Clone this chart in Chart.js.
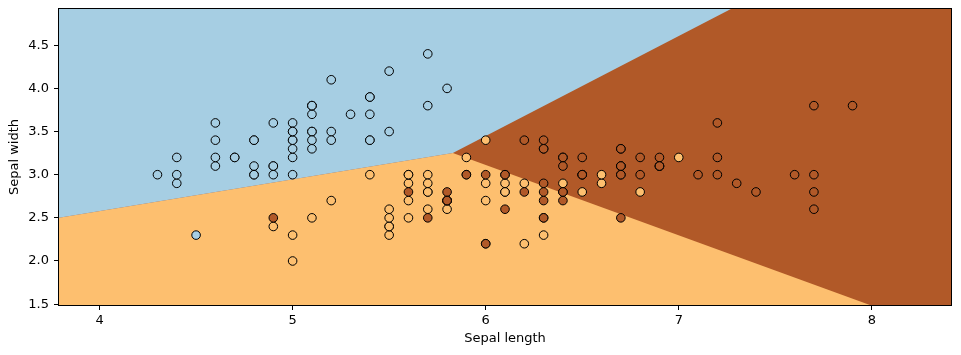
<!DOCTYPE html>
<html>
<head>
<meta charset="utf-8">
<script src="https://cdn.jsdelivr.net/npm/chart.js@4/dist/chart.umd.min.js"></script>
<style>
  html, body { margin: 0; padding: 0; background: #fff; }
  #wrap { width: 961px; height: 355px; }
</style>
</head>
<body>
<div id="wrap"><canvas id="c" width="961" height="355"></canvas></div>
<script>
// ---- data (iris: sepal length, sepal width) ----
const setosaLen = [5.1,4.9,4.7,4.6,5.0,5.4,4.6,5.0,4.4,4.9,5.4,4.8,4.8,4.3,5.8,5.7,5.4,5.1,5.7,5.1,5.4,5.1,4.6,5.1,4.8,5.0,5.0,5.2,5.2,4.7,4.8,5.4,5.2,5.5,4.9,5.0,5.5,4.9,4.4,5.1,5.0,4.5,4.4,5.0,5.1,4.8,5.1,4.6,5.3,5.0];
const setosaWid = [3.5,3.0,3.2,3.1,3.6,3.9,3.4,3.4,2.9,3.1,3.7,3.4,3.0,3.0,4.0,4.4,3.9,3.5,3.8,3.8,3.4,3.7,3.6,3.3,3.4,3.0,3.4,3.5,3.4,3.2,3.1,3.4,4.1,4.2,3.1,3.2,3.5,3.6,3.0,3.4,3.5,2.3,3.2,3.5,3.8,3.0,3.8,3.2,3.7,3.3];
const versicolorLen = [7.0,6.4,6.9,5.5,6.5,5.7,6.3,4.9,6.6,5.2,5.0,5.9,6.0,6.1,5.6,6.7,5.6,5.8,6.2,5.6,5.9,6.1,6.3,6.1,6.4,6.6,6.8,6.7,6.0,5.7,5.5,5.5,5.8,6.0,5.4,6.0,6.7,6.3,5.6,5.5,5.5,6.1,5.8,5.0,5.6,5.7,5.7,6.2,5.1,5.7];
const versicolorWid = [3.2,3.2,3.1,2.3,2.8,2.8,3.3,2.4,2.9,2.7,2.0,3.0,2.2,2.9,2.9,3.1,3.0,2.7,2.2,2.5,3.2,2.8,2.5,2.8,2.9,3.0,2.8,3.0,2.9,2.6,2.4,2.4,2.7,2.7,3.0,3.4,3.1,2.3,3.0,2.5,2.6,3.0,2.6,2.3,2.7,3.0,2.9,2.9,2.5,2.8];
const virginicaLen = [6.3,5.8,7.1,6.3,6.5,7.6,4.9,7.3,6.7,7.2,6.5,6.4,6.8,5.7,5.8,6.4,6.5,7.7,7.7,6.0,6.9,5.6,7.7,6.3,6.7,7.2,6.2,6.1,6.4,7.2,7.4,7.9,6.4,6.3,6.1,7.7,6.3,6.4,6.0,6.9,6.7,6.9,5.8,6.8,6.7,6.7,6.3,6.5,6.2,5.9];
const virginicaWid = [3.3,2.7,3.0,2.9,3.0,3.0,2.5,2.9,2.5,3.6,3.2,2.7,3.0,2.5,2.8,3.2,3.0,3.8,2.6,2.2,3.2,2.8,2.8,2.7,3.3,3.2,2.8,3.0,2.8,3.0,2.8,3.8,2.8,2.8,2.6,3.0,3.4,3.1,3.0,3.1,3.1,3.1,2.7,3.2,3.3,3.0,2.5,3.0,3.4,3.0];

// decision region boundaries
const setosaEdgeX = [3.79, 5.83, 7.27, 8.41];
const setosaEdgeY = [2.50, 3.25, 4.92, 4.92];
const versicolorEdgeX = [3.79, 5.83, 7.99, 8.41];
const versicolorEdgeY = [2.50, 3.25, 1.49, 1.49];

// axes
const xRange = [3.79, 8.41];
const yRange = [1.49, 4.92];
const xTicks = [4, 5, 6, 7, 8];
const yTicks = [1.5, 2.0, 2.5, 3.0, 3.5, 4.0, 4.5];

const C_SETOSA = '#a6cee3', C_VERSI = '#fdbf6f', C_VIRG = '#b15928';

const zipPts = (xs, ys) => xs.map((x, i) => ({x, y: ys[i]}));

const pointStyle = (color, ord) => ({
  type: 'scatter',
  backgroundColor: color,
  borderColor: '#000',
  borderWidth: 1,
  pointRadius: 4.3,
  pointHoverRadius: 4.3,
  order: ord
});

const frame = {
  id: 'frame',
  afterDatasetsDraw(chart) {
    const a = chart.chartArea, ctx = chart.ctx;
    ctx.save();
    ctx.strokeStyle = '#000';
    ctx.lineWidth = 1;
    ctx.strokeRect(Math.round(a.left) - 0.5, Math.round(a.top) - 0.5,
                   Math.round(a.right - a.left) + 1, Math.round(a.bottom - a.top) + 1);
    ctx.restore();
  }
};

const FONT = {family: 'DejaVu Sans', size: 13};

new Chart(document.getElementById('c'), {
  data: {
    datasets: [
      Object.assign({label: 'virginica', data: zipPts(virginicaLen, virginicaWid)}, pointStyle(C_VIRG, 1)),
      Object.assign({label: 'versicolor', data: zipPts(versicolorLen, versicolorWid)}, pointStyle(C_VERSI, 2)),
      Object.assign({label: 'setosa', data: zipPts(setosaLen, setosaWid)}, pointStyle(C_SETOSA, 3)),
      {
        type: 'line', label: 'setosa region', order: 10,
        data: zipPts(setosaEdgeX, setosaEdgeY),
        borderWidth: 0, borderColor: 'rgba(0,0,0,0)', pointRadius: 0,
        fill: 'end', backgroundColor: C_SETOSA, tension: 0
      },
      {
        type: 'line', label: 'versicolor region', order: 11,
        data: zipPts(versicolorEdgeX, versicolorEdgeY),
        borderWidth: 0, borderColor: 'rgba(0,0,0,0)', pointRadius: 0,
        fill: 'start', backgroundColor: C_VERSI, tension: 0
      },
      {
        type: 'line', label: 'virginica region', order: 12,
        data: [{x: xRange[0], y: yRange[1]}, {x: xRange[1], y: yRange[1]}],
        borderWidth: 0, borderColor: 'rgba(0,0,0,0)', pointRadius: 0,
        fill: 'start', backgroundColor: C_VIRG, tension: 0
      }
    ]
  },
  options: {
    responsive: false,
    animation: false,
    events: [],
    layout: {padding: {top: 9, right: 10, left: 0, bottom: 0}},
    plugins: {legend: {display: false}, tooltip: {enabled: false}},
    scales: {
      x: {
        type: 'linear', min: xRange[0], max: xRange[1],
        afterBuildTicks: s => { s.ticks = xTicks.map(v => ({value: v})); },
        afterFit: s => { s.height = 50; s.paddingLeft = 0; s.paddingRight = 0; },
        ticks: {color: '#000', font: FONT, padding: 3, maxRotation: 0, autoSkip: false,
                callback: v => String(v)},
        grid: {drawOnChartArea: false, drawTicks: true, tickLength: 5, color: '#000', tickWidth: 1},
        border: {display: false},
        title: {display: true, text: 'Sepal length', color: '#000', font: FONT, padding: {bottom: 9}}
      },
      y: {
        type: 'linear', min: yRange[0], max: yRange[1],
        afterBuildTicks: s => { s.ticks = yTicks.map(v => ({value: v})); },
        afterFit: s => { s.width = 59; s.paddingTop = 0; s.paddingBottom = 0; },
        ticks: {color: '#000', font: FONT, padding: 5, autoSkip: false,
                callback: v => Number(v).toFixed(1)},
        grid: {drawOnChartArea: false, drawTicks: true, tickLength: 5, color: '#000', tickWidth: 1},
        border: {display: false},
        title: {display: true, text: 'Sepal width', color: '#000', font: FONT, padding: {top: 7}}
      }
    }
  },
  plugins: [frame]
});
</script>
</body>
</html>
